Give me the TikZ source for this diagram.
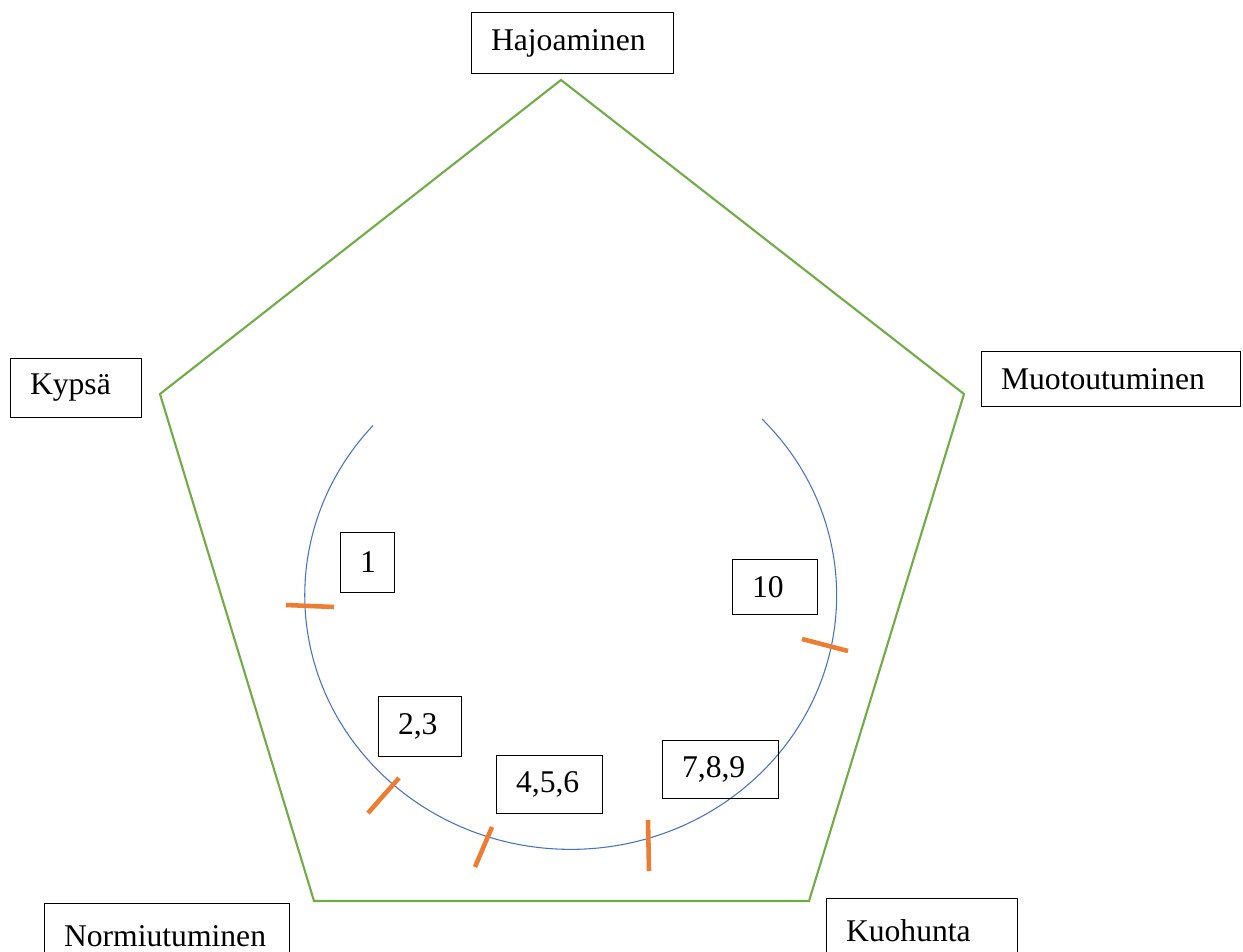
\documentclass[tikz,border=0pt]{standalone}
\usepackage{fontspec}
\setmainfont{Liberation Serif}
\definecolor{phasegreen}{RGB}{112,173,71}
\definecolor{arcblue}{RGB}{68,114,196}
\definecolor{tickorange}{RGB}{237,125,49}
\begin{document}
\begin{tikzpicture}[x=0.02cm,y=-0.02cm,line width=0.6pt,font=\fontsize{18}{21}\selectfont,
		box/.style={draw,anchor=north west,inner xsep=0.39cm,inner ysep=0pt,align=left},
		tickmark/.style={tickorange,line width=2.6pt}]
	\clip (0,0) rectangle (1243,952);
	\fill[white] (0,0) rectangle (1243,952);
	% pentagon
	\coordinate (ptop) at (561,80);
	\coordinate (pright) at (964,394);
	\coordinate (pbr) at (809,901);
	\coordinate (pbl) at (314,901);
	\coordinate (pleft) at (160,394);
	\draw[phasegreen,line width=1.2pt] (ptop)--(pright)--(pbr)--(pbl)--(pleft)--cycle;
	% arc and its marks
	\draw[arcblue] (762,419) arc[start angle=44,end angle=-222,x radius=5.32cm,y radius=5.08cm];
	\draw[tickmark] (286,605)--(334,607) (368,813)--(399,778) (475,867)--(492,827) (649,871)--(648,820) (802,639)--(848,651);
	% phases
	\node[box,text width=3.26cm,minimum height=1.22cm] (hajo) at (471,12) {Hajoaminen};
	\node[box,text width=1.84cm,minimum height=1.18cm] (kypsa) at (10,358) {Kypsä};
	\node[box,text width=4.40cm,minimum height=1.10cm] (muoto) at (981,351) {Muotoutuminen};
	\node[box,text width=4.12cm,minimum height=1.30cm] (normi) at (44,903) {Normiutuminen};
	\node[box,text width=3.04cm,minimum height=1.30cm] (kuoh) at (826,898) {Kuohunta};
	% numbers
	\node[box,text width=0.30cm,minimum height=1.20cm] (n1) at (340,532) {1};
	\node[box,text width=0.88cm,minimum height=1.20cm] (n23) at (378,696) {2,3};
	\node[box,text width=1.34cm,minimum height=1.16cm] (n456) at (496,755) {4,5,6};
	\node[box,text width=1.54cm,minimum height=1.16cm] (n789) at (662,740) {7,8,9};
	\node[box,text width=0.92cm,minimum height=1.10cm] (n10) at (732,559) {10};
\end{tikzpicture}
\end{document}
